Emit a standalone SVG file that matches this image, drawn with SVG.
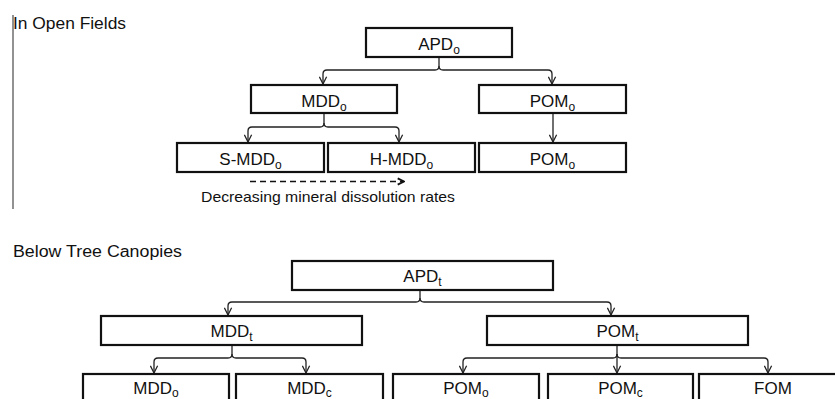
<svg xmlns="http://www.w3.org/2000/svg" width="835" height="399" viewBox="0 0 835 399">
<style>
text{font-family:"Liberation Sans",Arial,sans-serif;fill:#111}
.lbl{font-size:17px;text-anchor:middle}
.sub{font-size:12px}
.hdr{font-size:16px}
.box{fill:#fff;stroke:#111;stroke-width:2.2}
.con{fill:none;stroke:#222;stroke-width:1.3}
</style>
<defs>
<marker id="ah" markerUnits="userSpaceOnUse" viewBox="0 0 10 10" refX="9" refY="5" markerWidth="9" markerHeight="9" orient="auto">
<path d="M1,1 L9,5 L1,9" fill="none" stroke="#222" stroke-width="1.4"/>
</marker>
<marker id="dh" markerUnits="userSpaceOnUse" viewBox="0 0 10 10" refX="9" refY="5" markerWidth="9" markerHeight="9" orient="auto">
<path d="M2,1.5 L9,5 L2,8.5" fill="none" stroke="#111" stroke-width="2"/>
</marker>
</defs>

<line x1="13" y1="15" x2="13" y2="209" stroke="#777" stroke-width="1.6"/>
<text class="hdr" x="13" y="29" textLength="113" lengthAdjust="spacingAndGlyphs">In Open Fields</text>
<text class="hdr" x="13" y="257" textLength="169" lengthAdjust="spacingAndGlyphs">Below Tree Canopies</text>

<g id="connectors">
<path class="con" d="M439,57 V66 Q439,70 435,70 H327 Q323,70 323,74 V84" marker-end="url(#ah)"/>
<path class="con" d="M439,66 Q439,70 443,70 H548 Q552,70 552,74 V84" marker-end="url(#ah)"/>
<path class="con" d="M324,113 V123 Q324,127 320,127 H252 Q248,127 248,131 V142" marker-end="url(#ah)"/>
<path class="con" d="M324,123 Q324,127 328,127 H395 Q399,127 399,131 V142" marker-end="url(#ah)"/>
<path class="con" d="M553,113 V142" marker-end="url(#ah)"/>
<path d="M250,181.5 H404" fill="none" stroke="#111" stroke-width="1.6" stroke-dasharray="6,4" marker-end="url(#dh)"/>
<path class="con" d="M420,290 V298 Q420,302 416,302 H232 Q228,302 228,306 V315" marker-end="url(#ah)"/>
<path class="con" d="M420,298 Q420,302 424,302 H607 Q611,302 611,306 V315" marker-end="url(#ah)"/>
<path class="con" d="M232,345 V354 Q232,358 228,358 H158 Q154,358 154,362 V373" marker-end="url(#ah)"/>
<path class="con" d="M232,354 Q232,358 236,358 H302 Q306,358 306,362 V373" marker-end="url(#ah)"/>
<path class="con" d="M617,345 V354 Q617,358 613,358 H467 Q463,358 463,362 V373" marker-end="url(#ah)"/>
<path class="con" d="M617,354 Q617,358 621,358 H764 Q768,358 768,362 V373" marker-end="url(#ah)"/>
<path class="con" d="M617,354 V373" marker-end="url(#ah)"/>
</g>

<text x="328" y="202" font-size="15" textLength="254" lengthAdjust="spacingAndGlyphs" text-anchor="middle">Decreasing mineral dissolution rates</text>

<g id="APDo"><rect class="box" x="366" y="28" width="146" height="29"/><text class="lbl" x="439" y="49.5">APD<tspan class="sub" dy="4">o</tspan></text></g>
<g id="MDDo1"><rect class="box" x="251" y="85" width="146" height="28"/><text class="lbl" x="324" y="106.5">MDD<tspan class="sub" dy="4">o</tspan></text></g>
<g id="POMo1"><rect class="box" x="479" y="85" width="147" height="28"/><text class="lbl" x="552.5" y="106.5">POM<tspan class="sub" dy="4">o</tspan></text></g>
<g id="SMDDo"><rect class="box" x="177" y="143" width="147" height="29"/><text class="lbl" x="250.5" y="164.5">S-MDD<tspan class="sub" dy="4">o</tspan></text></g>
<g id="HMDDo"><rect class="box" x="328" y="143" width="147" height="29"/><text class="lbl" x="401.5" y="164.5">H-MDD<tspan class="sub" dy="4">o</tspan></text></g>
<g id="POMo2"><rect class="box" x="479" y="143" width="147" height="29"/><text class="lbl" x="552.5" y="164.5">POM<tspan class="sub" dy="4">o</tspan></text></g>

<g id="APDt"><rect class="box" x="292" y="261" width="261" height="29"/><text class="lbl" x="422.5" y="282">APD<tspan class="sub" dy="4">t</tspan></text></g>
<g id="MDDt"><rect class="box" x="101" y="316" width="261" height="29"/><text class="lbl" x="231.5" y="337">MDD<tspan class="sub" dy="4">t</tspan></text></g>
<g id="POMt"><rect class="box" x="487" y="316" width="261" height="29"/><text class="lbl" x="617.5" y="337">POM<tspan class="sub" dy="4">t</tspan></text></g>
<g id="MDDo2"><rect class="box" x="83" y="374" width="146" height="29"/><text class="lbl" x="156" y="394">MDD<tspan class="sub" dy="3">o</tspan></text></g>
<g id="MDDc"><rect class="box" x="236" y="374" width="147" height="29"/><text class="lbl" x="309.5" y="394">MDD<tspan class="sub" dy="3">c</tspan></text></g>
<g id="POMo3"><rect class="box" x="393" y="374" width="146" height="29"/><text class="lbl" x="466" y="394">POM<tspan class="sub" dy="3">o</tspan></text></g>
<g id="POMc"><rect class="box" x="548" y="374" width="145" height="29"/><text class="lbl" x="620.5" y="394">POM<tspan class="sub" dy="3">c</tspan></text></g>
<g id="FOM"><rect class="box" x="699" y="374" width="146" height="29"/><text class="lbl" x="773" y="394">FOM</text></g>
</svg>
